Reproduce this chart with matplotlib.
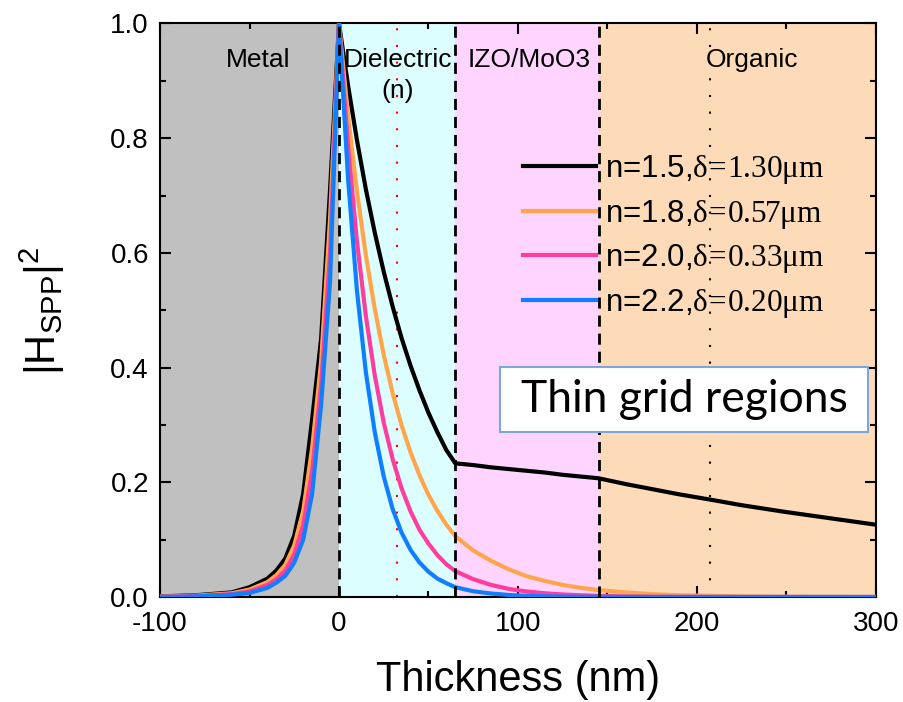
import matplotlib
matplotlib.use("Agg")
import matplotlib.pyplot as plt
from matplotlib.patches import Rectangle
from matplotlib.ticker import MultipleLocator

plt.rcParams['font.family'] = ['Liberation Sans', 'DejaVu Sans']
plt.rcParams['mathtext.fontset'] = 'custom'
plt.rcParams['mathtext.rm'] = 'Liberation Serif'
plt.rcParams['mathtext.sf'] = 'Liberation Sans'
plt.rcParams['axes.unicode_minus'] = False

# thickness positions (nm) where the field profiles were read
x_nm = [-100, -80, -60, -50, -40, -35, -30, -25, -20, -15, -10, -5, 0,
        5, 10, 15, 20, 25, 30, 35, 40, 45, 50, 55, 60, 65,
        75, 85, 95, 105, 115, 125, 135, 145,
        160, 175, 190, 207, 225, 250, 275, 300]

h_n15 = [0.001, 0.003, 0.008, 0.017, 0.032, 0.046, 0.067, 0.107, 0.18, 0.31, 0.45, 0.71, 1.0,
         0.893, 0.797, 0.711, 0.635, 0.567, 0.506, 0.451, 0.403, 0.36, 0.321, 0.287, 0.256, 0.233,
         0.230, 0.226, 0.223, 0.220, 0.217, 0.213, 0.210, 0.207,
         0.197, 0.188, 0.179, 0.170, 0.160, 0.148, 0.137, 0.126]
h_n18 = [0.0007, 0.0023, 0.0065, 0.013, 0.026, 0.038, 0.056, 0.09, 0.15, 0.26, 0.41, 0.66, 1.0,
         0.841, 0.708, 0.596, 0.502, 0.422, 0.355, 0.299, 0.252, 0.212, 0.178, 0.150, 0.126, 0.106,
         0.081, 0.063, 0.048, 0.036, 0.028, 0.021, 0.016, 0.012,
         0.008, 0.005, 0.003, 0.002, 0.001, 0.0005, 0.0002, 0.0001]
h_n20 = [0.0003, 0.0016, 0.005, 0.01, 0.021, 0.031, 0.046, 0.074, 0.125, 0.22, 0.37, 0.60, 1.0,
         0.788, 0.621, 0.490, 0.386, 0.304, 0.240, 0.189, 0.149, 0.117, 0.093, 0.073, 0.057, 0.045,
         0.031, 0.021, 0.014, 0.0095, 0.0065, 0.0044, 0.003, 0.002,
         0.001, 0.0006, 0.0003, 0.0002, 0.0001, 0.0, 0.0, 0.0]
h_n22 = [0.0, 0.001, 0.004, 0.007, 0.016, 0.025, 0.037, 0.06, 0.10, 0.18, 0.335, 0.55, 1.0,
         0.732, 0.535, 0.392, 0.287, 0.210, 0.153, 0.112, 0.082, 0.060, 0.044, 0.032, 0.024, 0.017,
         0.010, 0.006, 0.0035, 0.002, 0.0012, 0.0007, 0.0004, 0.0002,
         0.0001, 0.0, 0.0, 0.0, 0.0, 0.0, 0.0, 0.0]

series = [h_n15, h_n18, h_n20, h_n22]
labels = ['n=1.5,' + r'$\mathrm{δ\!=\!1.30μm}$',
          'n=1.8,' + r'$\mathrm{δ\!=\!0.57μm}$',
          'n=2.0,' + r'$\mathrm{δ\!=\!0.33μm}$',
          'n=2.2,' + r'$\mathrm{δ\!=\!0.20μm}$']
colors = ['#000000', '#ffa64d', '#ff3d9e', '#0f7fff']

# layer boundaries (nm) and names
layer_edges = [-100, 0, 65, 145, 300]
layer_colors = ['#c0c0c0', '#dcfefe', '#ffd5ff', '#fddbb8']
layer_names = ['Metal', 'Dielectric\n(n)', 'IZO/MoO3', 'Organic']
name_x = [-45, 33, 106, 231]
decay_marks = [32.4, 207]

fig = plt.figure(figsize=(9.04, 7.02), dpi=100)
ax = fig.add_axes([0.177, 0.1496, 0.792, 0.817])

for i in range(4):
    ax.axvspan(layer_edges[i], layer_edges[i + 1], color=layer_colors[i], lw=0, zorder=0)
    ax.text(name_x[i], 0.958, layer_names[i], ha='center', va='top', fontsize=19,
            linespacing=1.4, zorder=5)

ax.axvline(decay_marks[0], color='red', lw=1.5, ls=(0, (1, 7)), zorder=1)
ax.axvline(decay_marks[1], color='black', lw=1.5, ls=(0, (1, 7)), zorder=1)

for y, c, lab in zip(series, colors, labels):
    ax.plot(x_nm, y, color=c, lw=3, label=lab, zorder=3)

for xb in layer_edges[1:4]:
    ax.axvline(xb, color='black', lw=2, ls=(0, (4, 2.5)), zorder=4)

leg = ax.legend(loc='upper left', bbox_to_anchor=(0.507, 0.774), frameon=False,
                fontsize=22.5, handlelength=2.34, handletextpad=0.29, labelspacing=0.37,
                borderpad=0, borderaxespad=0)

ax.add_patch(Rectangle((0.475, 0.288), 0.514, 0.113, transform=ax.transAxes,
                       facecolor='white', edgecolor='#7ea6d8', lw=1.5, zorder=6))
ax.text(0.732, 0.3445, 'Thin grid regions', transform=ax.transAxes, ha='center',
        va='center', fontsize=32, family=['Lato', 'DejaVu Sans'], zorder=7)

ax.set_xlim(-100, 300)
ax.set_ylim(0, 1.0)
ax.xaxis.set_major_locator(MultipleLocator(100))
ax.xaxis.set_minor_locator(MultipleLocator(50))
ax.yaxis.set_major_locator(MultipleLocator(0.2))
ax.yaxis.set_minor_locator(MultipleLocator(0.1))
ax.tick_params(which='both', direction='in', top=True, right=True, width=1.5)
ax.tick_params(which='major', length=8, labelsize=20)
ax.tick_params(axis='x', which='major', pad=10)
ax.tick_params(axis='y', which='major', pad=8)
ax.tick_params(which='minor', length=4)
for s in ax.spines.values():
    s.set_linewidth(1.5)

ax.set_xlabel('Thickness (nm)', fontsize=30)
ax.set_ylabel(r'$\mathsf{|H_{SPP}|^2}$', fontsize=30)
ax.xaxis.set_label_coords(0.5, -0.11)
ax.yaxis.set_label_coords(-0.13, 0.5)

fig.savefig('out.png', dpi=100)
